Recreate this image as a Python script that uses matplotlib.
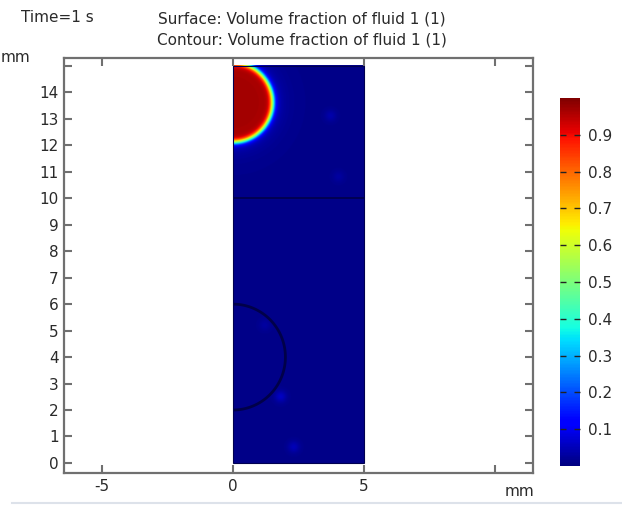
import numpy as np
import matplotlib
matplotlib.use("Agg")
import matplotlib.pyplot as plt
from matplotlib.patches import Rectangle

# ---- data (mm) ----
domain_x = [0.0, 5.0]
domain_y = [0.0, 15.0]
drop_center = [0.0, 13.6]
drop_radius = 1.5
interface_width = 0.12
drop_max_value = 0.965
background_value = 0.01
halo_amp = 0.06
halo_width = 0.35
contour_circle_center = [0.0, 4.0]
contour_circle_radius = 2.0
contour_line_y = 10.0
faint_spots_x = [1.8, 2.3, 3.7, 4.0, 1.2]
faint_spots_y = [2.5, 0.6, 13.1, 10.8, 5.2]
faint_spots_amp = [0.05, 0.04, 0.03, 0.02, 0.02]
x_ticks = [-5, 0, 5, 10]
x_ticklabels = ["-5", "0", "5", ""]
y_ticks = list(range(0, 16))
y_ticklabels = [str(v) for v in range(0, 15)] + [""]
cbar_ticks = [0.1, 0.2, 0.3, 0.4, 0.5, 0.6, 0.7, 0.8, 0.9]

W, H = 622, 513
fig = plt.figure(figsize=(W / 100, H / 100), dpi=100)
fig.patch.set_facecolor("white")

ax = fig.add_axes([64 / W, 1 - 473 / H, (533 - 64) / W, (473 - 58) / H])
ax.set_xlim(-6.45, 11.45)
ax.set_ylim(-0.38, 15.3)

# field
nx, ny = 250, 750
xs = np.linspace(domain_x[0], domain_x[1], nx)
ys = np.linspace(domain_y[0], domain_y[1], ny)
X, Y = np.meshgrid(xs, ys)
r = np.hypot(X - drop_center[0], Y - drop_center[1])
phi = background_value + (drop_max_value - background_value) * 0.5 * (
    1 - np.tanh((r - drop_radius) / interface_width))
phi += halo_amp * np.exp(-np.clip(r - drop_radius, 0, None) / halo_width) * (r > drop_radius)
for sx, sy, a in zip(faint_spots_x, faint_spots_y, faint_spots_amp):
    phi += a * np.exp(-((X - sx) ** 2 + (Y - sy) ** 2) / (2 * 0.15 ** 2))
phi = np.clip(phi, 0, drop_max_value)
im = ax.imshow(phi, origin="lower", cmap="jet", vmin=0, vmax=1,
               extent=[domain_x[0], domain_x[1], domain_y[0], domain_y[1]],
               interpolation="bilinear", aspect="auto", zorder=1)
ax.add_patch(Rectangle((domain_x[0], domain_y[0]), domain_x[1] - domain_x[0],
                       domain_y[1] - domain_y[0], fill=False,
                       edgecolor="#000050", lw=0.8, zorder=3))

# contours (computed on the domain grid, so clipped to the domain)
rc = np.hypot(X - contour_circle_center[0], Y - contour_circle_center[1])
ax.contour(X, Y, rc, levels=[contour_circle_radius], colors=["#00003a"],
           linewidths=2.0, alpha=0.8, zorder=2)
ax.contour(X, Y, Y, levels=[contour_line_y], colors=["#00003a"],
           linewidths=1.2, alpha=0.8, zorder=2)

# axes styling
spine_c = "#707070"
for s in ax.spines.values():
    s.set_color(spine_c)
    s.set_linewidth(1.6)
ax.set_xticks(x_ticks)
ax.set_xticklabels(x_ticklabels)
ax.set_yticks(y_ticks)
ax.set_yticklabels(y_ticklabels)
ax.tick_params(direction="in", length=6, width=1.5, color=spine_c,
               top=True, right=True, labelsize=11, labelcolor="#2a2a2a", pad=4)

txt = dict(fontsize=11, color="#2a2a2a", va="center")
fig.text(520 / W, 1 - 492 / H, "mm", ha="center", **txt)
fig.text(30 / W, 1 - 58 / H, "mm", ha="right", **txt)

# titles
fig.text(21 / W, 1 - 18 / H, "Time=1 s", ha="left", **txt)
fig.text(302 / W, 1 - 19 / H, "Surface: Volume fraction of fluid 1 (1)",
         ha="center", **txt)
fig.text(302 / W, 1 - 40 / H, "Contour: Volume fraction of fluid 1 (1)",
         ha="center", **txt)

# colorbar
cax = fig.add_axes([560 / W, 1 - 466 / H, 20 / W, (466 - 98) / H])
cb = fig.colorbar(im, cax=cax, ticks=cbar_ticks)
cb.outline.set_visible(False)
cax.tick_params(direction="in", length=4, width=1, color="#222222",
                left=True, right=True, labelsize=11, labelcolor="#2a2a2a", pad=6)
cb.ax.set_yticklabels([f"{t:.1f}" for t in cbar_ticks])

# faint UI line at bottom
fig.add_artist(plt.Line2D([12 / W, 1], [1 - 503 / H, 1 - 503 / H],
                          transform=fig.transFigure, color="#dde2ea", lw=1.5))

fig.savefig("out.png", dpi=100)
